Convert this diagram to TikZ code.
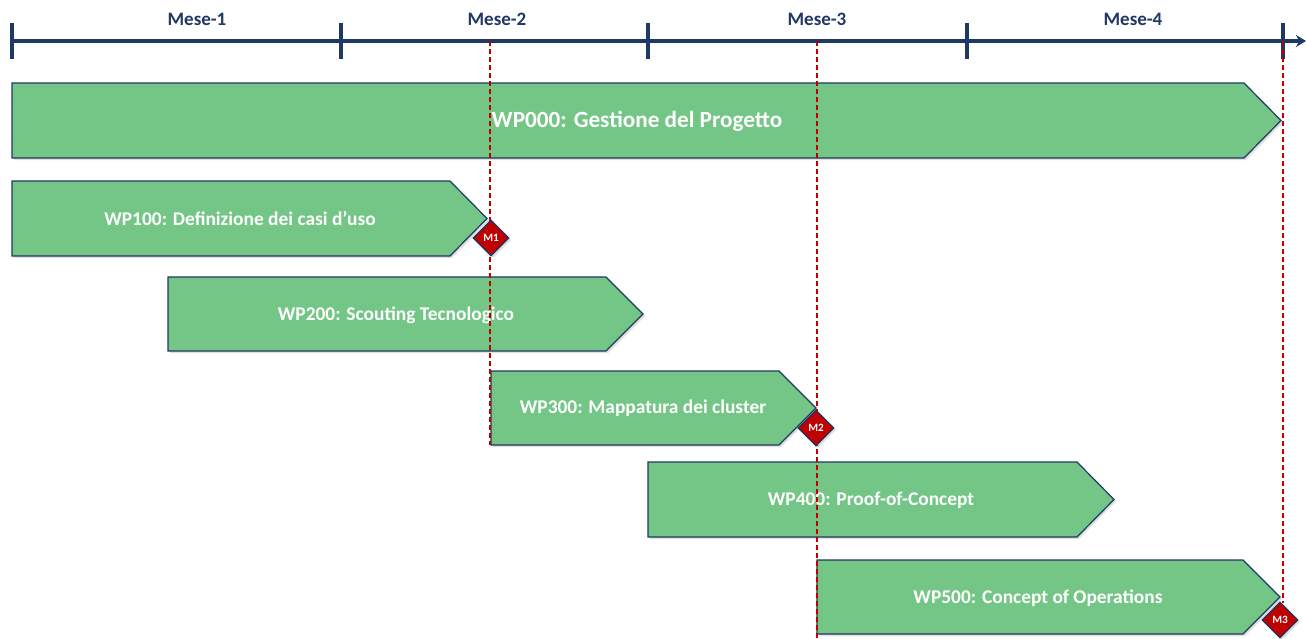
\documentclass[tikz,border=0pt]{standalone}
\usepackage{fontspec}
\setmainfont{Carlito}
\usetikzlibrary{arrows.meta,shapes.geometric,shadows}
\definecolor{gnavy}{HTML}{1F3864}
\definecolor{gbar}{HTML}{74C687}
\definecolor{gred}{HTML}{C00000}
\tikzset{
  wpbar/.style={fill=gbar,draw=gnavy,line width=0.6pt,drop shadow={opacity=0.25,shadow xshift=1pt,shadow yshift=-1pt}},
  wplabel/.style={text=white,font=\fontsize{9.7}{11}\selectfont\bfseries},
  mslabel/.style={diamond,fill=gred,draw=gnavy,line width=0.6pt,inner sep=0pt,minimum size=18pt,
    text=white,font=\fontsize{5.6}{6}\selectfont\bfseries,drop shadow={opacity=0.25,shadow xshift=1pt,shadow yshift=-1pt}},
  msline/.style={gred,line width=0.9pt,dash pattern=on 2.4pt off 1.6pt},
}

\begin{document}
\begin{tikzpicture}[x=0.5pt,y=-0.5pt]
  \useasboundingbox (0,0) rectangle (1306,638);
  % timeline
  \draw[gnavy,line width=2pt,-{Stealth[length=5pt,width=6pt]}] (12,41) -- (1306,41);
  \foreach \x in {12,341,648,967,1283}{\draw[gnavy,line width=2pt] (\x,23) -- (\x,59);}
  \foreach \x/\m in {197/1,497/2,817/3,1133/4}{\node[text=gnavy,font=\fontsize{9.5}{11}\selectfont\bfseries] (mese\m) at (\x,19) {Mese-\m};}
  % work packages
  \foreach \n/\xa/\xb/\ya/\yb/\tx in {100/12/487/181/256/240,200/168/643/277/351/396,300/491/816/371/445/643,400/648/1114/462/537/871,500/817/1280/560/634/1038}{
    \draw[wpbar] (\xa,\ya) -- (\xb-37,\ya) -- (\xb,{(\ya+\yb)/2}) -- (\xb-37,\yb) -- (\xa,\yb) -- cycle;
  }
  \draw[wpbar] (12,83) -- (1244,83) -- (1281,120.5) -- (1244,158) -- (12,158) -- cycle;
  \node[wplabel,font=\fontsize{11.6}{13}\selectfont\bfseries] (wp000) at (637,121) {WP000: Gestione del Progetto};
  \node[wplabel] (wp100) at (240,219) {WP100: Definizione dei casi d’uso};
  \node[wplabel] (wp200) at (396,315) {WP200: Scouting Tecnologico};
  \node[wplabel] (wp300) at (643,408) {WP300: Mappatura dei cluster};
  \node[wplabel] (wp400) at (871,500) {WP400: Proof-of-Concept};
  \node[wplabel] (wp500) at (1038,598) {WP500: Concept of Operations};
  % milestones
  \coordinate (t1) at (490,41);
  \coordinate (t2) at (817,41);
  \coordinate (t3) at (1283,41);
  \coordinate (b1) at (490,445);
  \coordinate (b2) at (817,638);
  \draw[msline] (t1) -- (b1);
  \draw[msline] (t2) -- (b2);
  \draw[msline] (t3) -- (1283,603);
  \node[mslabel] (m1) at (491,238) {M1};
  \node[mslabel] (m2) at (816,428) {M2};
  \node[mslabel] (m3) at (1280,620) {M3};
\end{tikzpicture}
\end{document}
